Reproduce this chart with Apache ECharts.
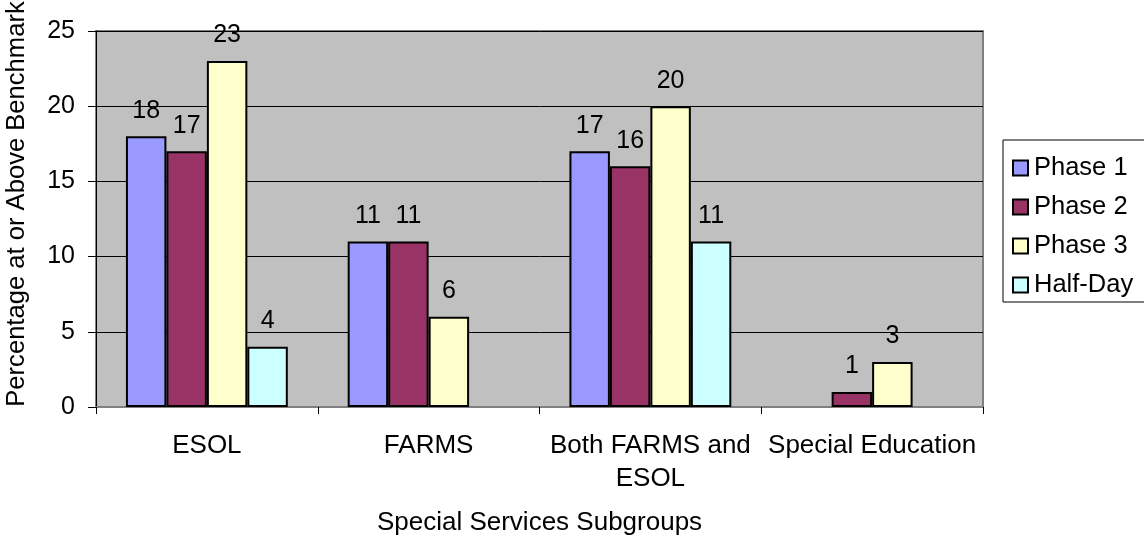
<!DOCTYPE html>
<html>
<head>
<meta charset="utf-8">
<script src="https://cdn.jsdelivr.net/npm/echarts@6/dist/echarts.min.js"></script>
<style>
  html, body { margin: 0; padding: 0; background: #fff; }
  #main { width: 1144px; height: 537px; }
</style>
</head>
<body>
<div id="main"></div>
<script>
var categories = ['ESOL', 'FARMS', 'Both FARMS and\nESOL', 'Special Education'];
var seriesNames = ['Phase 1', 'Phase 2', 'Phase 3', 'Half-Day'];
var phase1 = [18, 11, 17, null];
var phase2 = [17, 11, 16, 1];
var phase3 = [23, 6, 20, 3];
var halfDay = [4, null, 11, null];
var colors = ['#9999FF', '#993366', '#FFFFCC', '#CCFFFF'];

var font = 'Liberation Sans, Arial, sans-serif';
var myChart = echarts.init(document.getElementById('main'));

function makeSeries(name, data, color) {
    return {
        name: name,
        type: 'bar',
        data: data,
        barGap: '0%',
        barCategoryGap: '27%',
        itemStyle: { color: color, borderColor: '#000', borderWidth: 2 },
        label: {
            show: true,
            position: 'top',
            distance: 13,
            color: '#000',
            fontSize: 25,
            fontFamily: font
        }
    };
}

var option = {
    animation: false,
    backgroundColor: '#fff',
    textStyle: { fontFamily: font },
    grid: {
        left: 96, right: 161, top: 31, bottom: 130,
        outerBoundsMode: 'none',
        containLabel: false,
        show: true,
        backgroundColor: '#C0C0C0',
        borderColor: '#808080',
        borderWidth: 2
    },
    legend: {
        orient: 'vertical',
        left: 1003, top: 140,
        width: 150,
        padding: [15, 20, 4, 9],
        itemGap: 13,
        itemWidth: 15, itemHeight: 15,
        icon: 'rect',
        borderColor: '#000',
        borderWidth: 1,
        textStyle: { fontSize: 25.5, lineHeight: 25, color: '#000', fontFamily: font, padding: [0, 0, 0, 1] },
        data: seriesNames
    },
    xAxis: {
        type: 'category',
        data: categories,
        name: 'Special Services Subgroups',
        nameLocation: 'middle',
        nameGap: 103,
        nameTextStyle: { fontSize: 26, color: '#000', fontFamily: font },
        axisLine: { show: true, lineStyle: { color: '#808080', width: 2 } },
        axisTick: { show: true, length: 7, lineStyle: { color: '#000' } },
        axisLabel: { fontSize: 26, color: '#000', margin: 22, fontFamily: font, lineHeight: 33, interval: 0 }
    },
    yAxis: {
        type: 'value',
        min: 0, max: 25, interval: 5,
        name: 'Percentage at or Above Benchmark',
        nameLocation: 'middle',
        nameGap: 66,
        nameTextStyle: { fontSize: 25.6, color: '#000', fontFamily: font, padding: [0, 0, 0, 30] },
        axisLine: { show: true, lineStyle: { color: '#000', width: 1 } },
        axisTick: { show: true, length: 8, lineStyle: { color: '#000' } },
        axisLabel: { fontSize: 25, color: '#000', margin: 21, fontFamily: font },
        splitLine: { show: true, lineStyle: { color: '#000', width: 1 } }
    },
    series: [
        makeSeries(seriesNames[0], phase1, colors[0]),
        makeSeries(seriesNames[1], phase2, colors[1]),
        makeSeries(seriesNames[2], phase3, colors[2]),
        makeSeries(seriesNames[3], halfDay, colors[3])
    ]
};

myChart.setOption(option);
</script>
</body>
</html>
